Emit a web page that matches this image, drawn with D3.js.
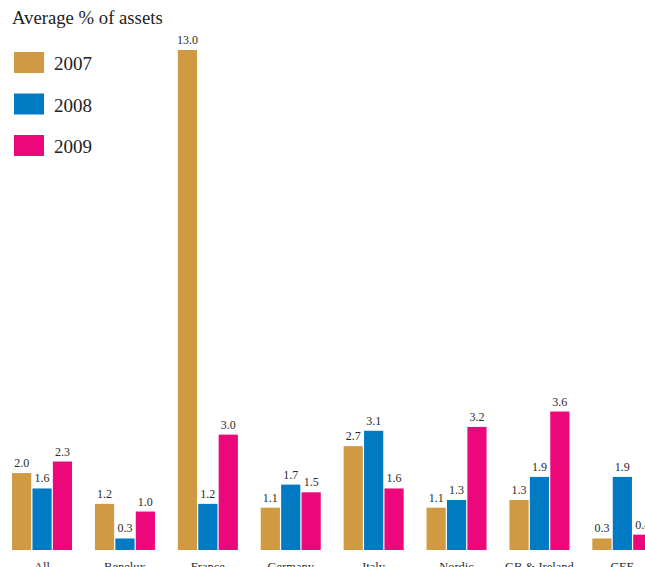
<!DOCTYPE html>
<html lang="en">
<head>
  <meta charset="UTF-8">
  <title>Average % of assets</title>
  <script src="https://cdn.jsdelivr.net/npm/d3@7.9.0/dist/d3.min.js"></script>
  <style>
    html, body { margin: 0; padding: 0; background: #fff; }
    svg { display: block; font-family: "Liberation Serif", "DejaVu Serif", serif; }
  </style>
</head>
<body>
  <div id="chart"></div>

  <script>
    // data
    const regions = ["All", "Benelux", "France", "Germany", "Italy", "Nordic", "GB & Ireland", "CEE"];
    const years = ["2007", "2008", "2009"];
    const v2007 = [2.0, 1.2, 13.0, 1.1, 2.7, 1.1, 1.3, 0.3];
    const v2008 = [1.6, 0.3, 1.2, 1.7, 3.1, 1.3, 1.9, 1.9];
    const v2009 = [2.3, 1.0, 3.0, 1.5, 1.6, 3.2, 3.6, 0.4];
    const colors = ["#cf9a41", "#007ac3", "#ec087b"];

    const series = [v2007, v2008, v2009];
    const width = 645, height = 567;

    const svg = d3.select("#chart").append("svg")
      .attr("width", width)
      .attr("height", height);

    const x = d3.scaleBand()
      .domain(regions)
      .range([0.6, 663.8])
      .paddingInner(0.276)
      .paddingOuter(0.138);

    const xs = d3.scaleBand()
      .domain(years)
      .range([0, x.bandwidth()])
      .paddingInner(0.06);

    const y = d3.scaleLinear()
      .domain([0, 13])
      .range([550, 50]);

    const color = d3.scaleOrdinal().domain(years).range(colors);

    const rows = regions.map((r, i) => ({
      region: r,
      vals: years.map((yr, j) => ({ year: yr, value: series[j][i] }))
    }));

    const groups = svg.append("g")
      .selectAll("g")
      .data(rows)
      .join("g")
      .attr("transform", d => `translate(${x(d.region)},0)`);

    groups.selectAll("rect")
      .data(d => d.vals)
      .join("rect")
      .attr("x", d => xs(d.year))
      .attr("y", d => y(d.value))
      .attr("width", xs.bandwidth())
      .attr("height", d => y(0) - y(d.value))
      .attr("fill", d => color(d.year));

    groups.selectAll("text.val")
      .data(d => d.vals)
      .join("text")
      .attr("class", "val")
      .attr("x", d => xs(d.year) + xs.bandwidth() / 2)
      .attr("y", d => y(d.value) - 6)
      .attr("text-anchor", "middle")
      .attr("font-size", 12)
      .attr("fill", "#2a2a2a")
      .text(d => d3.format(".1f")(d.value));

    // region names sit at the bottom edge, partly cut off as in the original
    groups.append("text")
      .attr("x", x.bandwidth() / 2)
      .attr("y", 571)
      .attr("text-anchor", "middle")
      .attr("font-size", 12.5)
      .attr("fill", "#2a2a2a")
      .text(d => d.region);

    // title
    svg.append("text")
      .attr("x", 12)
      .attr("y", 24)
      .attr("font-size", 18.7)
      .attr("fill", "#222")
      .text("Average % of assets");

    // legend
    const legend = svg.append("g")
      .selectAll("g")
      .data(years)
      .join("g")
      .attr("transform", (d, i) => `translate(14,${52 + i * 41.5})`);

    legend.append("rect")
      .attr("width", 30)
      .attr("height", 21)
      .attr("fill", d => color(d));

    legend.append("text")
      .attr("x", 40)
      .attr("y", 18)
      .attr("font-size", 19)
      .attr("fill", "#222")
      .text(d => d);
  </script>
</body>
</html>
